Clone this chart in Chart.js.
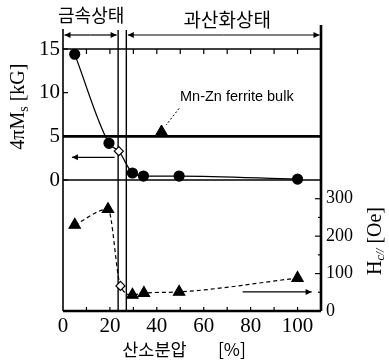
<!DOCTYPE html>
<html><head><meta charset="utf-8">
<script src="https://cdn.jsdelivr.net/npm/chart.js@4.4.1/dist/chart.umd.min.js"></script>
<style>html,body{margin:0;padding:0;background:#fff}#wrap{width:389px;height:364px;position:relative}</style>
</head><body><div id="wrap"><canvas id="c"></canvas></div>
<script>
// ---- data ----
const oxygenMs = [5, 19.6, 23.8, 29.6, 34.3, 49.5, 100];
const msValues = [14.4, 4.2, 3.3, 0.8, 0.45, 0.45, 0.1];
const oxygenHc = [5, 19.2, 24.5, 29.6, 34.5, 49.5, 100];
const hcValues = [230, 272, 67, 43, 48, 51, 88];
const bulkOxygen = [42];
const bulkMs = [5.5];
const xTicks = [0, 20, 40, 60, 80, 100];
const msTicks = [0, 5, 10, 15];
const hcTicks = [0, 100, 200, 300];
const msRefLevels = [15, 5, 0];
const stateBounds = [23.5, 27];
const msArrow = [[22, 2.6], [3.8, 2.6]];
const hcArrow = [[76.6, 51], [106, 51]];
const leader = [[49.5, 8.2], [44, 6.3]];
const stateLabels = ['금속상태', '과산화상태'];
const xTitle = ['산소분압', '[%]'];
const bulkLabel = 'Mn-Zn ferrite bulk';

const SERIF = '"Liberation Serif", "Times New Roman", serif';
const KR = '"Noto Sans CJK KR", sans-serif';

function drawParts(ctx, parts, cx, cy, rot) {
  ctx.save();
  ctx.translate(cx, cy);
  if (rot) ctx.rotate(rot);
  let total = 0;
  parts.forEach(p => { ctx.font = p.f; p.w = ctx.measureText(p.t).width; total += p.w; });
  let xx = -total / 2;
  ctx.textBaseline = 'middle';
  ctx.textAlign = 'left';
  parts.forEach(p => { ctx.font = p.f; ctx.fillText(p.t, xx, p.dy || 0); xx += p.w; });
  ctx.restore();
}

const deco = {
  id: 'deco',
  beforeDatasetsDraw(chart) {
    const {ctx, chartArea: {left, right, top, bottom}, scales: {x, y, y2}} = chart;
    ctx.save();
    ctx.strokeStyle = '#000';
    const line = (a, b, c, d, w) => { ctx.lineWidth = w; ctx.beginPath(); ctx.moveTo(a, b); ctx.lineTo(c, d); ctx.stroke(); };
    msRefLevels.forEach(v => { const py = y.getPixelForValue(v); line(left, py, right, py, v === 5 ? 2.6 : 1.4); });
    stateBounds.forEach(v => { const px = x.getPixelForValue(v); line(px, top - 19, px, bottom, 1.4); });
    line(left, top - 20, left, bottom, 1.6);
    line(right, top - 24, right, bottom, 2.6);
    line(left, bottom, right, bottom, 2.6);
    for (let v = 10; v <= 100; v += 10) {
      const px = x.getPixelForValue(v);
      line(px, top, px, top + 5, 1.2);
      line(px, bottom, px, bottom - 4, 1.2);
    }
    msTicks.forEach(v => { const py = y.getPixelForValue(v); line(left, py, left + 5, py, 1.2); });
    for (let v = 50; v <= 300; v += 50) {
      const py = y2.getPixelForValue(v);
      line(right, py, right - (v % 100 === 0 ? 6 : 3), py, 1.2);
    }
    ctx.restore();
  },
  afterDraw(chart) {
    const {ctx, chartArea: {left, right, top, bottom}, scales: {x, y, y2}} = chart;
    ctx.save();
    ctx.strokeStyle = '#000'; ctx.fillStyle = '#000';
    const arrow = (x1, y1, x2, yy2, w, head) => {
      ctx.lineWidth = w; ctx.beginPath(); ctx.moveTo(x1, y1); ctx.lineTo(x2, yy2); ctx.stroke();
      if (head) {
        const a = Math.atan2(yy2 - y1, x2 - x1), L = 6, H = 3;
        ctx.beginPath();
        ctx.moveTo(x2, yy2);
        ctx.lineTo(x2 - L * Math.cos(a) + H * Math.sin(a), yy2 - L * Math.sin(a) - H * Math.cos(a));
        ctx.lineTo(x2 - L * Math.cos(a) - H * Math.sin(a), yy2 - L * Math.sin(a) + H * Math.cos(a));
        ctx.closePath(); ctx.fill();
      }
    };
    const by = top - 14;
    [[0, stateBounds[0]], [stateBounds[1], 110]].forEach(([a, b]) => {
      const pa = x.getPixelForValue(a) + 1.5, pb = x.getPixelForValue(b) - 1.5;
      const mid = (pa + pb) / 2;
      arrow(mid, by, pa, by, 1.2, true);
      arrow(mid, by, pb, by, 1.2, true);
    });
    arrow(x.getPixelForValue(msArrow[0][0]), y.getPixelForValue(msArrow[0][1]),
          x.getPixelForValue(msArrow[1][0]), y.getPixelForValue(msArrow[1][1]), 1.2, true);
    arrow(x.getPixelForValue(hcArrow[0][0]), y2.getPixelForValue(hcArrow[0][1]),
          x.getPixelForValue(hcArrow[1][0]), y2.getPixelForValue(hcArrow[1][1]), 1.2, true);
    ctx.setLineDash([2, 2]);
    arrow(x.getPixelForValue(leader[0][0]), y.getPixelForValue(leader[0][1]),
          x.getPixelForValue(leader[1][0]), y.getPixelForValue(leader[1][1]), 1, false);
    ctx.setLineDash([]);
    ctx.font = '14.5px "Liberation Sans", Arial, sans-serif';
    ctx.textBaseline = 'middle'; ctx.textAlign = 'left';
    ctx.fillText(bulkLabel, x.getPixelForValue(49.9), y.getPixelForValue(9.5));
    ctx.textAlign = 'center';
    ctx.font = '18px ' + KR;
    ctx.fillText(stateLabels[0], x.getPixelForValue(12), top - 34);
    ctx.font = '19px ' + KR;
    ctx.fillText(stateLabels[1], x.getPixelForValue(70), top - 29.5);
    ctx.font = '17.5px ' + KR;
    ctx.fillText(xTitle[0], x.getPixelForValue(39), bottom + 38);
    ctx.fillText(xTitle[1], x.getPixelForValue(72), bottom + 38);
    drawParts(ctx, [
      {t: '4πM', f: '20px ' + SERIF},
      {t: 's', f: '14px ' + SERIF, dy: 5},
      {t: ' [kG]', f: '20px ' + SERIF}
    ], left - 44, y.getPixelForValue(8.4), -Math.PI / 2);
    drawParts(ctx, [
      {t: 'H', f: '20px ' + SERIF},
      {t: 'c//', f: 'italic 12px ' + SERIF, dy: 5},
      {t: ' [Oe]', f: '20px ' + SERIF}
    ], right + 55, y2.getPixelForValue(187), -Math.PI / 2);
    ctx.restore();
  }
};

const tickFont = {family: SERIF, size: 21};
new Chart(document.getElementById('c'), {
  type: 'scatter',
  data: {
    datasets: [
      {
        data: oxygenMs.map((v, i) => ({x: v, y: msValues[i]})),
        yAxisID: 'y', showLine: true, borderColor: '#000', borderWidth: 1.2,
        cubicInterpolationMode: 'monotone',
        pointStyle: oxygenMs.map((_, i) => i === 2 ? 'rectRot' : 'circle'),
        pointRadius: oxygenMs.map((_, i) => i === 2 ? 4.5 : 5),
        pointBackgroundColor: oxygenMs.map((_, i) => i === 2 ? '#fff' : '#000'),
        pointBorderColor: '#000', pointBorderWidth: 1.2, clip: false
      },
      {
        data: oxygenHc.map((v, i) => ({x: v, y: hcValues[i]})),
        yAxisID: 'y2', showLine: true, borderColor: '#000', borderWidth: 1.2,
        borderDash: [4, 3], cubicInterpolationMode: 'monotone',
        pointStyle: oxygenHc.map((_, i) => i === 2 ? 'rectRot' : 'triangle'),
        pointRadius: oxygenHc.map((_, i) => i === 2 ? 4.5 : 6.5),
        pointBackgroundColor: oxygenHc.map((_, i) => i === 2 ? '#fff' : '#000'),
        pointBorderColor: '#000', pointBorderWidth: 1.2, clip: false
      },
      {
        data: bulkOxygen.map((v, i) => ({x: v, y: bulkMs[i]})),
        yAxisID: 'y', showLine: false, pointStyle: 'triangle', pointRadius: 7,
        pointBackgroundColor: '#000', pointBorderColor: '#000', clip: false
      }
    ]
  },
  options: {
    responsive: true, maintainAspectRatio: false, animation: false,
    layout: {padding: {top: 49, left: 0, right: 0, bottom: 0}},
    plugins: {legend: {display: false}, tooltip: {enabled: false}},
    scales: {
      x: {
        type: 'linear', min: 0, max: 110,
        afterBuildTicks: s => { s.ticks = xTicks.map(v => ({value: v})); },
        afterFit: s => { s.height = 53; },
        grid: {display: false, drawTicks: false}, border: {display: false},
        ticks: {font: tickFont, color: '#000', padding: 3, maxRotation: 0, autoSkip: false}
      },
      y: {
        position: 'left', min: -15, max: 15,
        afterBuildTicks: s => { s.ticks = msTicks.map(v => ({value: v})); },
        afterFit: s => { s.width = 63; },
        grid: {display: false, drawTicks: false}, border: {display: false},
        ticks: {font: tickFont, color: '#000', padding: 3, autoSkip: false}
      },
      y2: {
        position: 'right', min: 0, max: 700,
        afterBuildTicks: s => { s.ticks = hcTicks.map(v => ({value: v})); },
        afterFit: s => { s.width = 68; },
        grid: {display: false, drawTicks: false}, border: {display: false},
        ticks: {font: {family: SERIF, size: 18}, color: '#000', padding: 5, autoSkip: false}
      }
    }
  },
  plugins: [deco]
});
</script>
</body></html>
